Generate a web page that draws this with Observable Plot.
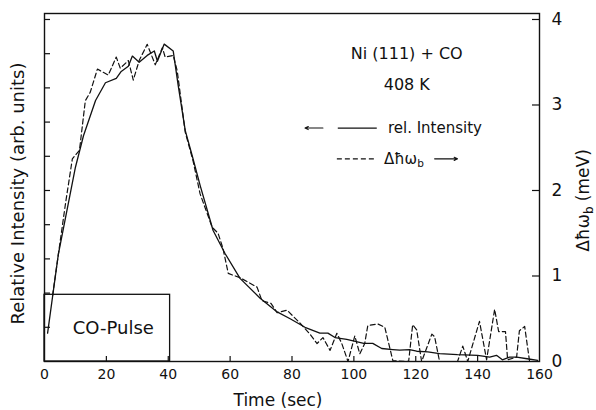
<!DOCTYPE html>
<html><head><meta charset="utf-8">
<script src="https://cdn.jsdelivr.net/npm/d3@7"></script>
<script src="https://cdn.jsdelivr.net/npm/@observablehq/plot@0.6"></script>
<style>body{margin:0;background:#fff} svg{font-family:"DejaVu Sans",sans-serif}</style>
</head><body><div id="chart"></div>
<script>
// Relative intensity (arb. units, left axis: 10 divisions)
const relTime = [1.0,4.5,10,12.6,16.5,19.7,23.2,24.8,27.1,28.4,30.6,33.2,35.5,36.5,38.7,41.6,43.2,45.5,47.7,50.3,54.5,58.4,63.2,69.7,75.2,79.4,84.2,89,91.6,93.9,97.7,103.2,106.1,109,112.6,114.8,118,120.3,123.9,127.7,133.5,140,143.9,146.1,148,150.3,152.6,156,159.4];
const relIntensity = [0.83,3.15,5.68,6.6,7.63,8.15,8.28,8.48,8.63,8.93,8.75,8.95,9.08,8.78,9.28,9.08,8.08,6.75,6.03,5.15,3.83,3.15,2.43,1.85,1.45,1.25,1.0,0.83,0.83,0.7,0.65,0.53,0.53,0.38,0.35,0.33,0.35,0.3,0.28,0.23,0.2,0.18,0.13,0.18,0.05,0.13,0.13,0.08,0.03];
// Δħω_b (meV, right axis)
const dwTime = [2.6,6.8,9,11.3,13.2,14.8,17.1,20.6,23.2,24.5,27.1,28.7,30.6,33.2,35.8,38.1,39,41.6,42.9,45.5,48,50.3,54.2,56.1,57.7,59.4,63.2,68.7,70.3,73.2,75.2,78.4,82.3,85.8,88.1,90,92.3,94.5,96.1,98.1,100.3,101.9,103.5,104.5,107.7,110,112.6,117.7,119,120.3,121.9,125.2,126.1,127.7,133.5,135.2,136.8,140.6,142.9,145.5,146.8,149,149.7,152.6,153.5,155.2,156.8];
const dwMeV = [0.77,1.85,2.37,2.47,3.05,3.15,3.42,3.35,3.56,3.43,3.52,3.29,3.52,3.71,3.47,3.67,3.56,3.58,3.40,2.68,2.35,1.96,1.57,1.50,1.32,1.03,0.98,0.87,0.71,0.68,0.57,0.60,0.46,0.32,0.21,0.28,0.13,0.33,0.21,0.0,0.30,0.09,0.21,0.42,0.44,0.40,0.01,0,0.43,0.37,0,0.32,0.29,0,0,0.18,0,0.47,0.02,0.61,0.35,0.35,0.02,0.05,0.36,0.41,0];

const xTicks = [0,20,40,60,80,100,120,140,160];
const rightTicks = [0,1,2,3,4];
const leftTicks = [1,2,3,4,5,6,7,8,9,10]; // arb. units
const ARB_TO_MEV = 0.4;
const pulseStart = 0, pulseEnd = 40.6, pulseTop = 0.78;

const relData = relTime.map((t,i) => ({t, v: relIntensity[i] * ARB_TO_MEV}));
const dwData = dwTime.map((t,i) => ({t, v: dwMeV[i]}));

const W = 596, H = 410, mL = 44, mR = 57, mT = 13, mB = 49;
const fw = W - mL - mR, fh = H - mT - mB;
const ink = "#111";

const chart = Plot.plot({
  width: W, height: H,
  marginLeft: mL, marginRight: mR, marginTop: mT, marginBottom: mB,
  style: {fontFamily: "DejaVu Sans, sans-serif", background: "#fff", color: ink},
  x: {domain: [0,160]},
  y: {domain: [0, 4.07]},
  marks: [
    Plot.frame({stroke: ink, strokeWidth: 1.4}),
    // inward ticks
    Plot.ruleX(xTicks.filter(d => d > 0 && d < 160), {x: d => d, insetTop: fh - 5, stroke: ink, strokeWidth: 1.2}),
    Plot.ruleY(leftTicks, {y: d => d * ARB_TO_MEV, insetRight: fw - 6, stroke: ink, strokeWidth: 1.2}),
    Plot.ruleY(rightTicks.filter(d => d > 0), {y: d => d, insetLeft: fw - 7, stroke: ink, strokeWidth: 1.2}),
    Plot.axisX({ticks: xTicks, tickSize: 0, tickPadding: 8, fontSize: 14, label: null, tickFormat: d3.format("d")}),
    Plot.axisY({anchor: "right", ticks: rightTicks, tickSize: 0, tickPadding: 12, fontSize: 17, label: null, tickFormat: d3.format("d")}),
    // CO pulse box
    Plot.rect([{x1: pulseStart, x2: pulseEnd, y1: 0, y2: pulseTop}], {x1: "x1", x2: "x2", y1: "y1", y2: "y2", fill: "none", stroke: ink, strokeWidth: 1.3}),
    Plot.text(["CO-Pulse"], {x: (pulseStart + pulseEnd) / 2, y: pulseTop / 2, dx: 6, text: d => d, fontSize: 18, fill: ink}),
    // curves
    Plot.line(relData, {x: "t", y: "v", stroke: ink, strokeWidth: 1.3}),
    Plot.line(dwData, {x: "t", y: "v", stroke: ink, strokeWidth: 1.2, strokeDasharray: "5,3"}),
    // annotation
    Plot.text(["Ni (111) + CO"], {x: 117.1, y: 3.60, text: d => d, fontSize: 16, fill: ink}),
    Plot.text(["408 K"], {x: 117.1, y: 3.23, text: d => d, fontSize: 16, fill: ink}),
    // legend
    Plot.arrow([0], {x1: 90, x2: 84.2, y1: 2.73, y2: 2.73, stroke: ink, strokeWidth: 1.1, headLength: 5, headAngle: 50}),
    Plot.link([0], {x1: 94.8, x2: 107.4, y1: 2.73, y2: 2.73, stroke: ink, strokeWidth: 1.2}),
    Plot.text(["rel. Intensity"], {x: 111, y: 2.73, text: d => d, textAnchor: "start", fontSize: 15, fill: ink}),
    Plot.link([0], {x1: 94.5, x2: 107.4, y1: 2.37, y2: 2.37, stroke: ink, strokeWidth: 1.2, strokeDasharray: "5,3"}),
    Plot.text(["Δħω_b"], {x: 109.7, y: 2.37, text: d => d, textAnchor: "start", fontSize: 15, fill: ink}),
    Plot.arrow([0], {x1: 126.1, x2: 133.5, y1: 2.37, y2: 2.37, stroke: ink, strokeWidth: 1.1, headLength: 5, headAngle: 50}),
    // axis labels
    Plot.text(["Time (sec)"], {frameAnchor: "bottom", dx: -14, dy: 44, text: d => d, fontSize: 17, fill: ink}),
    Plot.text(["Relative Intensity (arb. units)"], {frameAnchor: "left", textAnchor: "middle", dx: -26, dy: 6, rotate: -90, text: d => d, fontSize: 18, fill: ink}),
    Plot.text(["Δħω_b (meV)"], {frameAnchor: "right", textAnchor: "middle", dx: 44, dy: 13, rotate: -90, text: d => d, fontSize: 17, fill: ink})
  ]
});

// subscript b
d3.select(chart).selectAll("text").each(function() {
  const s = this.textContent;
  const i = s.indexOf("_b");
  if (i < 0) return;
  const el = d3.select(this);
  el.selectAll("*").remove();
  el.text(null);
  el.append("tspan").text(s.slice(0, i));
  el.append("tspan").attr("font-size", "0.7em").attr("dy", "0.3em").text("b");
  const rest = s.slice(i + 2);
  if (rest) el.append("tspan").attr("dy", "-0.21em").text(rest);
});

document.getElementById("chart").appendChild(chart);
</script>
</body></html>
